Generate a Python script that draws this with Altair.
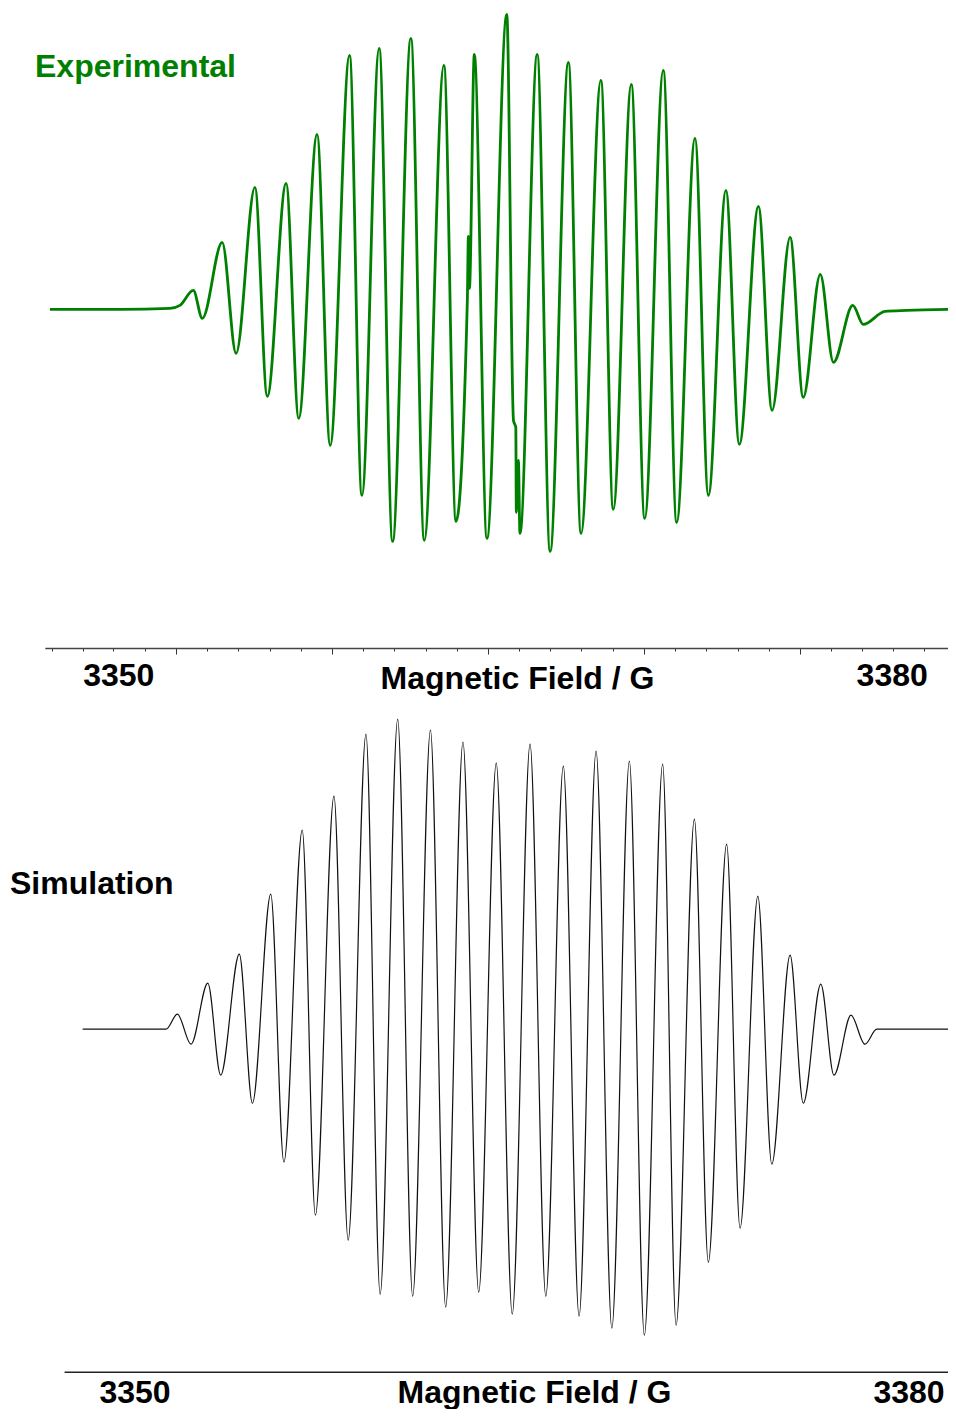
import json
import altair as alt
import pandas as pd

# ---------------- data ----------------
# Experimental EPR derivative spectrum (field in G, signal in arbitrary units)
exp_field = [3347.35, 3350.07, 3352.01, 3352.39, 3352.91, 3353.26, 3354.03, 3354.57, 3355.30, 3355.78,
             3356.51, 3357.00, 3357.71, 3358.22, 3358.97, 3359.45, 3360.12, 3360.64, 3361.35, 3361.87,
             3362.63, 3363.10, 3363.54, 3363.58, 3363.62, 3363.81, 3364.30, 3365.07, 3365.33, 3365.42,
             3365.44, 3365.52, 3365.58, 3366.25, 3366.75, 3367.46, 3367.95, 3368.72, 3369.20, 3369.90,
             3370.42, 3371.14, 3371.66, 3372.37, 3372.89, 3373.57, 3374.09, 3374.83, 3375.36, 3376.06,
             3376.57, 3377.23, 3377.74, 3378.49, 3378.90, 3379.74, 3380.58, 3382.26]
exp_signal = [0, 0, 1, 4, 19, -9, 67, -44, 122, -87,
              126, -109, 175, -136, 254, -186, 261, -232, 271, -231,
              244, -212, 9, 73, 21, 255, -229, 295, -111, -118,
              -203, -151, -224, 255, -242, 247, -224, 229, -200, 225,
              -209, 239, -213, 171, -186, 119, -135, 103, -101, 72,
              -88, 35, -53, 4, -15, -2, -1, 0]

# Simulated spectrum
sim_field = [3347.99, 3351.22, 3351.66, 3352.19, 3352.84, 3353.34, 3354.06, 3354.57, 3355.28, 3355.79,
             3356.50, 3357.01, 3357.73, 3358.28, 3358.97, 3359.52, 3360.20, 3360.78, 3361.47, 3362.06,
             3362.73, 3363.34, 3364.02, 3364.64, 3365.33, 3365.94, 3366.62, 3367.23, 3367.89, 3368.50,
             3369.18, 3369.76, 3370.47, 3370.99, 3371.70, 3372.24, 3372.95, 3373.47, 3374.16, 3374.70,
             3375.41, 3375.92, 3376.60, 3377.11, 3377.77, 3378.31, 3378.77, 3381.54]
sim_signal = [0, 0, 15, -15, 46, -46, 75, -74, 135, -133,
              199, -186, 233, -211, 295, -265, 310, -267, 299, -278,
              287, -263, 266, -285, 285, -267, 263, -287, 278, -299,
              268, -306, 265, -296, 210, -233, 185, -199, 133, -135,
              74, -74, 45, -46, 14, -15, 0, 0]

# Tick marks of the upper field axis (G)
minor_ticks = [3347.42, 3348.62, 3349.81, 3351.04, 3353.43, 3354.64, 3355.88, 3357.09,
               3359.50, 3360.71, 3361.92, 3363.13, 3365.53, 3366.75, 3367.95, 3369.18,
               3371.59, 3372.80, 3374.03, 3375.23, 3377.65, 3378.85, 3380.04, 3381.26]
major_ticks = [3352.24, 3358.30, 3364.35, 3370.38, 3376.44]
label_values = [3350, 3380]
axis_title = "Magnetic Field / G"
panel_titles = ["Experimental", "Simulation"]

GREEN = "#008000"
FONT = "Liberation Sans"

exp_df = pd.DataFrame({"field": exp_field, "signal": exp_signal})
sim_df = pd.DataFrame({"field": sim_field, "signal": sim_signal})

W, H = 940, 1401

tick_test_label = "indexof(%s, datum.value) >= 0" % json.dumps(label_values)
tick_test_major = "indexof(%s, datum.value) >= 0" % json.dumps(major_ticks)
label_expr = "indexof(%s, datum.value) >= 0 ? format(datum.value, 'd') : ''" % json.dumps(label_values)

top_axis = alt.Axis(
    orient="bottom", offset=640 - H, grid=False,
    values=sorted(minor_ticks + major_ticks + label_values),
    tickSize={"condition": [{"test": tick_test_label, "value": 0},
                            {"test": tick_test_major, "value": 6}], "value": 3},
    tickColor="#333333", tickWidth=1, domainColor="#444444", domainWidth=1.5,
    labelExpr=label_expr, labelFont=FONT, labelFontSize=32, labelFontWeight="bold",
    labelColor="black", labelBaseline="alphabetic", labelPadding=37,
    labelFlush=False, labelOverlap=False,
    title=axis_title, titleFont=FONT, titleFontSize=32, titleFontWeight="bold",
    titleColor="black", titleX=509, titleY=40, titleAlign="center",
    titleBaseline="alphabetic",
)

bottom_axis = alt.Axis(
    orient="bottom", offset=1363.7 - H, grid=False, values=label_values,
    ticks=False, tickSize=0, domainColor="#222222", domainWidth=1.4,
    labelFont=FONT, labelFontSize=32, labelFontWeight="bold", format="d",
    labelColor="black", labelBaseline="alphabetic", labelPadding=30.3,
    labelFlush=False, labelOverlap=False,
    title=axis_title, titleFont=FONT, titleFontSize=32, titleFontWeight="bold",
    titleColor="black", titleX=526, titleY=30.3, titleAlign="center",
    titleBaseline="alphabetic",
)

top_line = alt.Chart(exp_df).mark_line(
    color=GREEN, strokeWidth=2.8, interpolate="monotone"
).encode(
    x=alt.X("field:Q", scale=alt.Scale(domain=[3347.15, 3382.25], range=[36.8, 941.7], nice=False, zero=False),
            axis=top_axis),
    y=alt.Y("signal:Q", scale=alt.Scale(domain=[-260, 310], range=[561.4, -8.6], nice=False, zero=False),
            axis=None),
)

bottom_line = alt.Chart(sim_df).mark_line(
    color="#111111", strokeWidth=1.2, interpolate="monotone"
).encode(
    x=alt.X("field:Q", scale=alt.Scale(domain=[3347.27, 3381.84], range=[56.1, 948.0], nice=False, zero=False),
            axis=bottom_axis),
    y=alt.Y("signal:Q", scale=alt.Scale(domain=[-320, 320], range=[1341.2, 701.2], nice=False, zero=False),
            axis=None),
)

exp_text = alt.Chart(pd.DataFrame({"t": [panel_titles[0]]})).mark_text(
    align="left", baseline="alphabetic", font=FONT, fontSize=32, fontWeight="bold", color=GREEN
).encode(x=alt.value(27), y=alt.value(69), text="t:N")

sim_text = alt.Chart(pd.DataFrame({"t": [panel_titles[1]]})).mark_text(
    align="left", baseline="alphabetic", font=FONT, fontSize=32, fontWeight="bold", color="black"
).encode(x=alt.value(2), y=alt.value(886), text="t:N")

chart = alt.layer(top_line, bottom_line, exp_text, sim_text).resolve_scale(
    x="independent", y="independent"
).resolve_axis(
    x="independent", y="independent"
).properties(
    width=W, height=H, padding=0, background="white",
    autosize=alt.AutoSizeParams(type="none"),
).configure_view(strokeWidth=0, stroke="transparent")

chart.save("out.html", embed_options={"renderer": "svg", "actions": False})
